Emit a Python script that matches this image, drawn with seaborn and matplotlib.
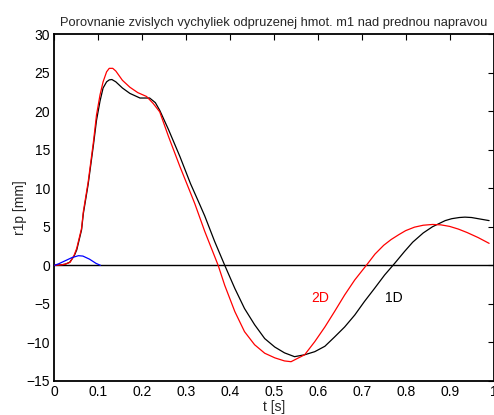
import matplotlib
matplotlib.use("Agg")
import matplotlib.pyplot as plt
import seaborn as sns

# Sprung-mass vertical displacement over the front axle, 1D vs 2D model
t_1d = [0, 0.015, 0.025, 0.035, 0.045, 0.051, 0.062, 0.066, 0.077, 0.089, 0.096,
        0.104, 0.111, 0.119, 0.125, 0.131, 0.14, 0.155, 0.172, 0.195, 0.217,
        0.23, 0.24, 0.26, 0.286, 0.31, 0.331, 0.3425, 0.365, 0.388, 0.411, 0.433,
        0.456, 0.479, 0.502, 0.524, 0.547, 0.57, 0.593, 0.616, 0.638, 0.661, 0.684,
        0.706, 0.729, 0.752, 0.775, 0.797, 0.816, 0.84, 0.861, 0.89, 0.905, 0.922,
        0.935, 0.95, 0.97, 0.99]
r1p_1d = [0, 0.05, 0.15, 0.4, 1.2, 2.0, 4.6, 6.7, 10.5, 15.6, 18.8,
          21.3, 23.0, 23.8, 24.05, 24.1, 23.8, 23.0, 22.3, 21.7, 21.7,
          21.1, 20.1, 17.6, 14.1, 10.6, 7.9, 6.4, 3.1, 0, -3.0, -5.6,
          -7.7, -9.5, -10.6, -11.35, -11.85, -11.6, -11.2, -10.5, -9.3, -8.0, -6.45,
          -4.7, -3.0, -1.26, 0.26, 1.77, 3.0, 4.2, 5.0, 5.8, 6.05, 6.2,
          6.25, 6.2, 6.0, 5.8]

t_2d = [0, 0.015, 0.025, 0.036, 0.045, 0.051, 0.062, 0.066, 0.077, 0.089, 0.096,
        0.104, 0.111, 0.119, 0.125, 0.133, 0.14, 0.155, 0.172, 0.19, 0.21,
        0.225, 0.24, 0.26, 0.286, 0.31, 0.3198, 0.3425, 0.373, 0.388, 0.411, 0.433,
        0.456, 0.479, 0.502, 0.524, 0.539, 0.57, 0.593, 0.616, 0.638, 0.661, 0.684,
        0.714, 0.73, 0.75, 0.767, 0.785, 0.8, 0.82, 0.84, 0.861, 0.88, 0.9, 0.92,
        0.94, 0.965, 0.99]
r1p_2d = [0, 0.05, 0.15, 0.4, 1.3, 2.2, 4.8, 6.95, 10.8, 16.0, 19.5,
          22.1, 23.8, 25.1, 25.55, 25.55, 25.2, 24.0, 23.1, 22.4, 21.9,
          21.0, 19.9, 16.7, 12.8, 9.4, 8.0, 4.4, 0, -2.6, -6.0, -8.6,
          -10.3, -11.4, -12.0, -12.4, -12.5, -11.6, -9.9, -8.0, -6.0, -3.85, -1.9,
          0.26, 1.45, 2.6, 3.35, 4.0, 4.5, 4.95, 5.2, 5.3, 5.25, 5.05, 4.7,
          4.25, 3.6, 2.85]

t_road = [0, 0.01, 0.025, 0.04, 0.055, 0.065, 0.08, 0.095, 0.105]
r_road = [0, 0.2, 0.6, 1.0, 1.25, 1.2, 0.8, 0.25, 0]

x_ticks = [0, 0.1, 0.2, 0.3, 0.4, 0.5, 0.6, 0.7, 0.8, 0.9, 1]
x_tick_labels = ["0", "0.1", "0.2", "0.3", "0.4", "0.5", "0.6", "0.7", "0.8", "0.9", "1"]
y_ticks = [-15, -10, -5, 0, 5, 10, 15, 20, 25, 30]

sns.set_style("white")
plt.rcParams["font.family"] = ["Liberation Sans", "DejaVu Sans"]
plt.rcParams["font.size"] = 10

fig = plt.figure(figsize=(4.94, 4.15), dpi=100)
ax = fig.add_axes([0.110, 0.082, 0.889, 0.836])

ax.axhline(0, color="black", lw=1.0, zorder=1)
sns.lineplot(x=t_1d, y=r1p_1d, ax=ax, color="black", lw=0.9, sort=False, zorder=2)
sns.lineplot(x=t_2d, y=r1p_2d, ax=ax, color="red", lw=0.9, sort=False, zorder=3)
sns.lineplot(x=t_road, y=r_road, ax=ax, color="blue", lw=0.9, sort=False, zorder=4)

ax.text(0.586, -4.2, "2D", color="red", fontsize=10, va="center", ha="left")
ax.text(0.754, -4.2, "1D", color="black", fontsize=10, va="center", ha="left")

ax.set_xlim(0, 1)
ax.set_ylim(-15, 30)
ax.set_xticks(x_ticks)
ax.set_xticklabels(x_tick_labels)
ax.set_yticks(y_ticks)
ax.tick_params(direction="in", length=4, width=0.8, top=True, right=True,
               labelsize=10, pad=3, colors="black")
for s in ax.spines.values():
    s.set_linewidth(1.3)
    s.set_color("black")

ax.set_title("Porovnanie zvislych vychyliek odpruzenej hmot. m1 nad prednou napravou",
             fontsize=9.3, pad=6)
ax.set_xlabel("t [s]", fontsize=10, labelpad=0.5)
ax.set_ylabel("r1p [mm]", fontsize=10, labelpad=0)

fig.savefig("out.png", dpi=100)
